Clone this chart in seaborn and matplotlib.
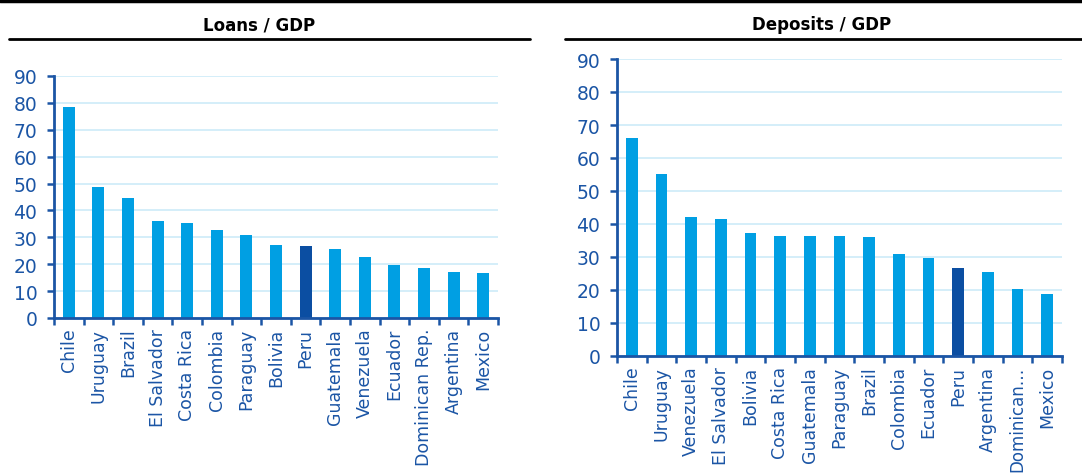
import numpy as np
import pandas as pd
import matplotlib
matplotlib.use('Agg')
import matplotlib.pyplot as plt
from matplotlib.lines import Line2D
from matplotlib.ticker import FixedLocator
import seaborn as sns

# Loans / GDP
loan_countries = ['Chile', 'Uruguay', 'Brazil', 'El Salvador', 'Costa Rica', 'Colombia', 'Paraguay',
                  'Bolivia', 'Peru', 'Guatemala', 'Venezuela', 'Ecuador', 'Dominican Rep.', 'Argentina', 'Mexico']
loan_values = [78.5, 48.8, 44.5, 35.9, 35.3, 32.8, 30.7, 27.2, 26.6, 25.5, 22.8, 19.8, 18.6, 17.2, 16.6]

# Deposits / GDP
dep_countries = ['Chile', 'Uruguay', 'Venezuela', 'El Salvador', 'Bolivia', 'Costa Rica', 'Guatemala',
                 'Paraguay', 'Brazil', 'Colombia', 'Ecuador', 'Peru', 'Argentina', 'Dominican\u2026', 'Mexico']
dep_values = [66.1, 55.1, 42.1, 41.5, 37.2, 36.3, 36.3, 36.3, 36.0, 30.9, 29.6, 26.6, 25.5, 20.2, 18.8]

yticks = [0, 10, 20, 30, 40, 50, 60, 70, 80, 90]

barcolor = '#009FE3'
peru_color = '#0B4EA2'
axcolor = '#1B55A5'
gridcolor = '#CDEBF8'

sns.set_style('white')
plt.rcParams['font.family'] = ['DejaVu Sans']

W, H = 1082, 477
fig = plt.figure(figsize=(W / 100, H / 100), dpi=100)


def px_axes(x0, y0, x1, y1):
    return fig.add_axes([x0 / W, 1 - y1 / H, (x1 - x0) / W, (y1 - y0) / H])


def draw(ax, countries, values, title_x, title):
    df = pd.DataFrame({'country': countries, 'value': values})
    colors = [peru_color if c == 'Peru' else barcolor for c in countries]
    sns.barplot(data=df, x='country', y='value', hue='country', palette=colors,
                legend=False, width=0.4, saturation=1, linewidth=0, ax=ax, zorder=3)
    ax.set_xlim(-0.5, len(countries) - 0.5)
    ax.set_ylim(0, 90)
    ax.set_yticks(yticks)
    ax.set_xlabel('')
    ax.set_ylabel('')
    ax.grid(axis='y', color=gridcolor, linewidth=1.2, zorder=0)
    for s in ['top', 'right']:
        ax.spines[s].set_visible(False)
    for s in ['left', 'bottom']:
        ax.spines[s].set_color(axcolor)
        ax.spines[s].set_linewidth(2)
        ax.spines[s].set_zorder(5)
    ax.tick_params(axis='y', left=True, colors=axcolor, labelsize=13.5, length=5, width=1.8, pad=7)
    ax.tick_params(axis='x', which='major', bottom=False, colors=axcolor, labelsize=12.5, length=0,
                   labelrotation=90, pad=7)
    ax.xaxis.set_minor_locator(FixedLocator(np.arange(-0.5, len(countries), 1)))
    ax.tick_params(axis='x', which='minor', bottom=True, color=axcolor, length=5, width=1.8)
    for lab in ax.get_xticklabels():
        lab.set_color(axcolor)
        if lab.get_text().endswith('\u2026'):
            lab.set_fontsize(12)
    fig.text(title_x / W, 1 - 25 / H, title, ha='center', va='center',
             fontsize=12, fontweight='bold', color='black')


ax1 = px_axes(54, 77, 498, 319)
draw(ax1, loan_countries, loan_values, 259, 'Loans / GDP')
ax2 = px_axes(617, 60, 1062, 357)
draw(ax2, dep_countries, dep_values, 822, 'Deposits / GDP')

# header rules
fig.add_artist(Line2D([0, 1], [1 - 1.5 / H, 1 - 1.5 / H], color='black', linewidth=2.5))
fig.add_artist(Line2D([9 / W, 530 / W], [1 - 40 / H, 1 - 40 / H], color='black', linewidth=2))
fig.add_artist(Line2D([565 / W, 1], [1 - 40 / H, 1 - 40 / H], color='black', linewidth=2))

fig.savefig('out.png', dpi=100)
